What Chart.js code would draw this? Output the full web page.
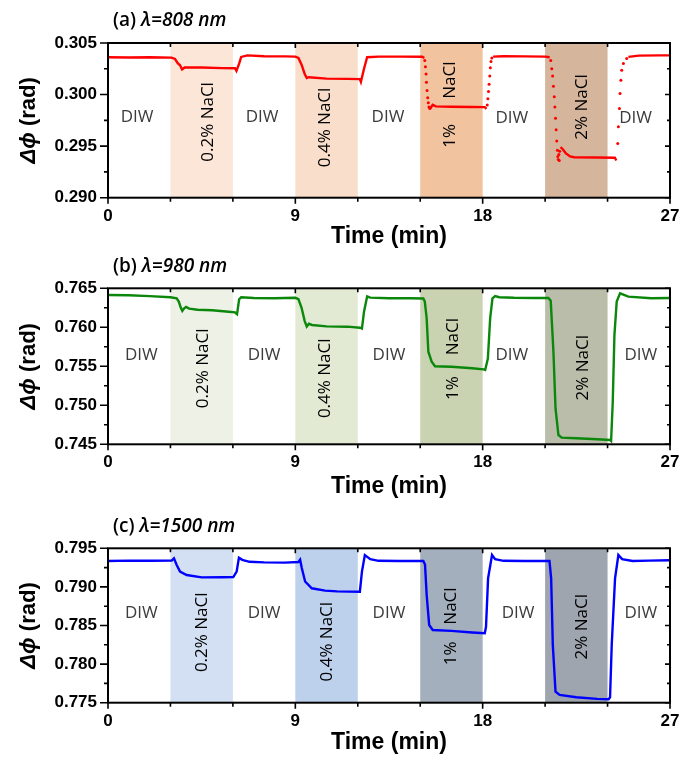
<!DOCTYPE html>
<html>
<head>
<meta charset="utf-8">
<script src="https://cdn.jsdelivr.net/npm/chart.js@4/dist/chart.umd.min.js"></script>
<style>
  html, body { margin: 0; padding: 0; background: #fff; }
  #wrap { position: relative; width: 681px; height: 759px; }
  canvas { position: absolute; left: 0; }
</style>
</head>
<body>
<div id="wrap">
  <canvas id="pa" width="681" height="250" style="top:0px"></canvas>
  <canvas id="pb" width="681" height="250" style="top:250px"></canvas>
  <canvas id="pc" width="681" height="259" style="top:500px"></canvas>
</div>
<script>
// ---- time axis (minutes) ----
const timeTicks = [0, 9, 18, 27];
const timeMinor = [3, 6, 12, 15, 21, 24];
const stageBands = [[3, 6], [9, 12], [15, 18], [21, 24]];

// ---- phase axis ticks ----
const ticks808 = [0.290, 0.295, 0.300, 0.305];
const minor808 = [0.2925, 0.2975, 0.3025];
const ticks980 = [0.745, 0.750, 0.755, 0.760, 0.765];
const minor980 = [0.7475, 0.7525, 0.7575, 0.7625];
const ticks1500 = [0.775, 0.780, 0.785, 0.790, 0.795];
const minor1500 = [0.7775, 0.7825, 0.7875, 0.7925];

// ---- measured phase shift [time (min), Δφ (rad)] ----
// 808 nm: continuous trace (null = fast switching, recorded as sparse samples below)
const phase808 = [
  [0, 0.30362], [1, 0.30360], [2, 0.30362], [3.05, 0.30358], [3.22, 0.30345], [3.35, 0.30305],
  [3.46, 0.30284], [3.56, 0.30243], [3.68, 0.30262], [4.5, 0.30262], [5.5, 0.30256], [6.1, 0.30255],
  [6.17, 0.30230], [6.3, 0.30300], [6.4, 0.30365], [6.7, 0.30380], [7.5, 0.30372], [8.5, 0.30370],
  [9.0, 0.30368], [9.15, 0.30355], [9.3, 0.30290], [9.45, 0.30200], [9.55, 0.30160], [9.65, 0.30168],
  [10.5, 0.30155], [11.5, 0.30152], [12.1, 0.30150], [12.15, 0.30123], [12.3, 0.30250], [12.45, 0.30362],
  [13, 0.30368], [14, 0.30368], [15.1, 0.30366], [15.2, 0.30355],
  [15.21, null],
  [15.48, 0.29865], [15.6, 0.29900], [15.75, 0.29885], [16.5, 0.29882], [17.5, 0.29880], [18.1, 0.29878],
  [18.18, 0.29862],
  [18.19, null],
  [18.5, 0.30368], [19, 0.30372], [20, 0.30370], [21, 0.30368], [21.22, 0.30362],
  [21.23, null],
  [21.74, 0.29490], [21.85, 0.29470], [22.0, 0.29430], [22.2, 0.29400], [22.4, 0.29392], [23.5, 0.29390],
  [24.35, 0.29388], [24.42, 0.29360],
  [24.43, null],
  [25.0, 0.30365], [25.5, 0.30378], [26.5, 0.30380], [27, 0.30380]
];
const phase808Fast = [
  [15.22, 0.30330], [15.25, 0.30270], [15.28, 0.30200], [15.30, 0.30120], [15.33, 0.30040], [15.36, 0.29970],
  [15.39, 0.29920], [15.42, 0.29880], [15.46, 0.29865],
  [18.22, 0.29900], [18.25, 0.29960], [18.28, 0.30030], [18.31, 0.30100], [18.34, 0.30180], [18.37, 0.30260],
  [18.40, 0.30320], [18.44, 0.30355],
  [21.27, 0.30330], [21.32, 0.30250], [21.36, 0.30180], [21.40, 0.30080], [21.44, 0.29980], [21.47, 0.29880],
  [21.50, 0.29770], [21.53, 0.29660], [21.56, 0.29550], [21.59, 0.29460], [21.61, 0.29400], [21.63, 0.29370],
  [21.66, 0.29420], [21.68, 0.29360], [21.70, 0.29450],
  [24.49, 0.29526], [24.52, 0.29688], [24.57, 0.29865], [24.60, 0.30010], [24.64, 0.30139], [24.68, 0.30236],
  [24.76, 0.30301], [24.92, 0.30349]
];
// 980 nm
const phase980 = [
  [0, 0.76415], [1, 0.76410], [2, 0.76400], [3.0, 0.76385], [3.3, 0.76370], [3.4, 0.76330], [3.5, 0.76250],
  [3.57, 0.76210], [3.65, 0.76240], [3.75, 0.76262], [3.9, 0.76240], [4.3, 0.76225], [5, 0.76218],
  [5.8, 0.76200], [6.1, 0.76192], [6.2, 0.76168], [6.3, 0.76360], [6.4, 0.76385], [7, 0.76375],
  [8, 0.76372], [9.0, 0.76378], [9.15, 0.76360], [9.3, 0.76250], [9.45, 0.76080], [9.55, 0.76010],
  [9.65, 0.76045], [9.8, 0.76030], [10.5, 0.76012], [11.5, 0.76008], [12.1, 0.75995], [12.2, 0.75985],
  [12.3, 0.76200], [12.45, 0.76395], [12.6, 0.76380], [13.5, 0.76372], [14.5, 0.76372], [15.15, 0.76370],
  [15.22, 0.76330], [15.31, 0.76115], [15.39, 0.75687], [15.55, 0.75559], [15.71, 0.75500], [16.5, 0.75495],
  [17.5, 0.75475], [18.05, 0.75460], [18.12, 0.75453], [18.25, 0.75600], [18.36, 0.76115], [18.47, 0.76372],
  [18.6, 0.76400], [18.8, 0.76385], [19.5, 0.76378], [20.5, 0.76375], [21.16, 0.76375], [21.27, 0.76340],
  [21.4, 0.75687], [21.5, 0.74960], [21.64, 0.74619], [21.8, 0.74585], [22.5, 0.74578], [23.5, 0.74565],
  [24.12, 0.74555], [24.17, 0.74542], [24.25, 0.75046], [24.33, 0.75900], [24.44, 0.76329], [24.6, 0.76436],
  [25.0, 0.76393], [26.1, 0.76372], [27, 0.76375]
];
// 1500 nm
const phase1500 = [
  [0, 0.79335], [1, 0.79340], [2, 0.79338], [3.06, 0.79340], [3.17, 0.79370], [3.3, 0.79284], [3.46, 0.79198],
  [3.78, 0.79154], [4.5, 0.79124], [5.5, 0.79125], [6.02, 0.79128], [6.18, 0.79198], [6.29, 0.79378],
  [6.45, 0.79350], [6.8, 0.79325], [7.5, 0.79318], [8.5, 0.79315], [9.15, 0.79322], [9.23, 0.79352],
  [9.31, 0.79244], [9.47, 0.79070], [9.79, 0.78982], [10.43, 0.78952], [11, 0.78942], [12.1, 0.78938],
  [12.2, 0.79198], [12.34, 0.79413], [12.6, 0.79360], [13, 0.79338], [14, 0.79336], [15.15, 0.79336],
  [15.23, 0.79290], [15.31, 0.78895], [15.43, 0.78507], [15.6, 0.78442], [16.5, 0.78430], [17.5, 0.78410],
  [18.1, 0.78399], [18.16, 0.78480], [18.26, 0.79111], [18.45, 0.79413], [18.6, 0.79360], [19, 0.79338],
  [20, 0.79336], [21.21, 0.79336], [21.29, 0.79111], [21.37, 0.78247], [21.5, 0.77643], [21.7, 0.77600],
  [22.5, 0.77570], [23.5, 0.77550], [24.05, 0.77544], [24.12, 0.77570], [24.2, 0.78247], [24.36, 0.79111],
  [24.52, 0.79413], [24.7, 0.79360], [25.2, 0.79336], [26, 0.79340], [27, 0.79345]
];

// ---- stage labels ----
const stageText = ['0.2% NaCl', '0.4% NaCl', 'NaCl', '1%', '2% NaCl'];

const AX_FONT = '"Liberation Sans", Arial, "DejaVu Sans", sans-serif';
const TX_FONT = '"Open Sans", "Noto Sans", sans-serif';

const panels = [
  {
    id: 'pa', H: 250, plotTop: 43, plotBottom: 197.7, titlePad: 0,
    tag: '(a) ', wl: 'λ=808 nm',
    yMin: 0.290, yMax: 0.305, yTicks: ticks808, yMinor: minor808,
    line: phase808, fast: phase808Fast, color: '#ff0000',
    bandColors: ['#fbe6d8', '#f9dfcb', '#f2c39f', '#d5b69d'],
    diwAt: [[1.4, 0.29778], [7.4, 0.29778], [13.45, 0.29778], [19.4, 0.29770], [25.35, 0.29770]],
    rotAt: [[4.82, 0.29735], [10.43, 0.29681], [16.43, 0.30140], [16.43, 0.29600], [22.76, 0.29880]]
  },
  {
    id: 'pb', H: 250, plotTop: 38.3, plotBottom: 194.3, titlePad: 0,
    tag: '(b) ', wl: 'λ=980 nm',
    yMin: 0.745, yMax: 0.765, yTicks: ticks980, yMinor: minor980,
    line: phase980, fast: null, color: '#0b870b',
    bandColors: ['#eef1e5', '#e3ead4', '#c9d3b1', '#b9bda9'],
    diwAt: [[1.6, 0.75646], [7.5, 0.75646], [13.5, 0.75646], [19.4, 0.75646], [25.6, 0.75646]],
    rotAt: [[4.58, 0.75474], [10.43, 0.75346], [16.6, 0.75880], [16.6, 0.75220], [22.84, 0.75482]]
  },
  {
    id: 'pc', H: 259, plotTop: 48.3, plotBottom: 202.7, titlePad: 3,
    tag: '(c) ', wl: 'λ=1500 nm',
    yMin: 0.775, yMax: 0.795, yTicks: ticks1500, yMinor: minor1500,
    line: phase1500, fast: null, color: '#0000ff',
    bandColors: ['#d3e0f3', '#bdd0ec', '#a4afbd', '#9ea5af'],
    diwAt: [[1.6, 0.78658], [7.5, 0.78658], [13.5, 0.78658], [19.7, 0.78658], [25.6, 0.78658]],
    rotAt: [[4.5, 0.78412], [10.55, 0.78290], [16.5, 0.78752], [16.5, 0.78140], [22.76, 0.78484]]
  }
];

// bands, stage labels, frame, tick marks and titles
const decor = {
  id: 'decor',
  beforeDatasetsDraw(chart, args, opts) {
    const p = opts.panel;
    const { ctx, chartArea: a, scales: { x, y } } = chart;
    ctx.save();
    stageBands.forEach(([s, e], i) => {
      const x0 = x.getPixelForValue(s), x1 = x.getPixelForValue(e);
      ctx.fillStyle = p.bandColors[i];
      ctx.fillRect(x0, a.top, x1 - x0, a.bottom - a.top);
    });
    ctx.font = '500 17px ' + TX_FONT;
    ctx.fillStyle = '#3c3c3c';
    ctx.textAlign = 'center';
    ctx.textBaseline = 'middle';
    p.diwAt.forEach(([t, v]) => ctx.fillText('DIW', x.getPixelForValue(t), y.getPixelForValue(v)));
    ctx.fillStyle = '#000';
    p.rotAt.forEach(([t, v], i) => {
      ctx.save();
      ctx.translate(x.getPixelForValue(t), y.getPixelForValue(v));
      ctx.rotate(-Math.PI / 2);
      ctx.fillText(stageText[i], 0, 0);
      ctx.restore();
    });
    ctx.restore();
  },
  afterDatasetsDraw(chart, args, opts) {
    const p = opts.panel;
    const { ctx, chartArea: a, scales: { x, y } } = chart;
    ctx.save();
    ctx.strokeStyle = '#000';
    ctx.lineWidth = 2;
    ctx.strokeRect(a.left, a.top, a.right - a.left, a.bottom - a.top);
    ctx.lineWidth = 1.6;
    ctx.beginPath();
    const xt = (v, len, lenTop) => {
      const px = x.getPixelForValue(v);
      ctx.moveTo(px, a.bottom); ctx.lineTo(px, a.bottom + len);
      ctx.moveTo(px, a.top); ctx.lineTo(px, a.top + lenTop);
    };
    timeTicks.forEach(v => xt(v, 6, 5));
    timeMinor.forEach(v => xt(v, 4, 4));
    const yt = (v, len, lenRight) => {
      const py = y.getPixelForValue(v);
      ctx.moveTo(a.left, py); ctx.lineTo(a.left - len, py);
      ctx.moveTo(a.right, py); ctx.lineTo(a.right - lenRight, py);
    };
    p.yTicks.forEach(v => yt(v, 8, 5));
    p.yMinor.forEach(v => yt(v, 4, 3));
    ctx.stroke();
    ctx.restore();
  },
  afterDraw(chart, args, opts) {
    const p = opts.panel;
    const { ctx, chartArea: a } = chart;
    ctx.save();
    // panel title
    ctx.fillStyle = '#000';
    ctx.textBaseline = 'middle';
    ctx.textAlign = 'left';
    ctx.font = '600 19px ' + TX_FONT;
    const ty = a.top - 22;
    ctx.fillText(p.tag, 113, ty);
    const w0 = ctx.measureText(p.tag).width;
    ctx.font = 'italic 600 19px ' + TX_FONT;
    ctx.fillText(p.wl, 113 + w0, ty);
    // phase axis title
    ctx.translate(29, (a.top + a.bottom) / 2);
    ctx.rotate(-Math.PI / 2);
    const f1 = 'italic bold 22px ' + AX_FONT, f2 = 'bold 22px ' + AX_FONT;
    ctx.font = f1; const wa = ctx.measureText('Δϕ').width;
    ctx.font = f2; const wb = ctx.measureText(' (rad)').width;
    let sx = -(wa + wb) / 2;
    ctx.font = f1; ctx.fillText('Δϕ', sx, 0);
    ctx.font = f2; ctx.fillText(' (rad)', sx + wa, 0);
    ctx.restore();
  }
};

panels.forEach(p => {
  const datasets = [{
    data: p.line.map(([t, v]) => ({ x: t, y: v })),
    borderColor: p.color,
    borderWidth: 2.4,
    pointRadius: 0,
    tension: 0,
    spanGaps: false
  }];
  if (p.fast) {
    datasets.push({
      data: p.fast.map(([t, v]) => ({ x: t, y: v })),
      showLine: false,
      pointRadius: 1.5,
      pointBorderWidth: 0,
      pointBackgroundColor: p.color,
      borderColor: p.color
    });
  }
  new Chart(document.getElementById(p.id), {
    type: 'line',
    data: { datasets },
    plugins: [decor],
    options: {
      responsive: false,
      animation: false,
      events: [],
      layout: { padding: { left: 0, right: 11, top: p.plotTop, bottom: 0 } },
      plugins: {
        legend: { display: false },
        tooltip: { enabled: false },
        decor: { panel: p }
      },
      scales: {
        x: {
          type: 'linear', position: 'bottom', min: 0, max: 27,
          grid: { display: false, drawTicks: false },
          border: { display: false },
          ticks: {
            color: '#000', padding: 8, maxRotation: 0, autoSkip: false,
            font: { family: AX_FONT, size: 17, weight: 'bold' }
          },
          title: {
            display: true, text: 'Time (min)', color: '#000',
            font: { family: AX_FONT, size: 23, weight: 'bold' },
            padding: { top: 0, bottom: p.titlePad }
          },
          afterBuildTicks: s => { s.ticks = timeTicks.map(v => ({ value: v })); },
          afterFit: s => { s.height = p.H - p.plotBottom; s.paddingLeft = 0; s.paddingRight = 0; }
        },
        y: {
          type: 'linear', position: 'left', min: p.yMin, max: p.yMax,
          grid: { display: false, drawTicks: false },
          border: { display: false },
          ticks: {
            color: '#000', padding: 11,
            font: { family: AX_FONT, size: 17, weight: 'bold' },
            callback: v => Number(v).toFixed(3)
          },
          afterBuildTicks: s => { s.ticks = p.yTicks.map(v => ({ value: v })); },
          afterFit: s => { s.width = 108; s.paddingTop = 0; s.paddingBottom = 0; }
        }
      }
    }
  });
});
</script>
</body>
</html>
